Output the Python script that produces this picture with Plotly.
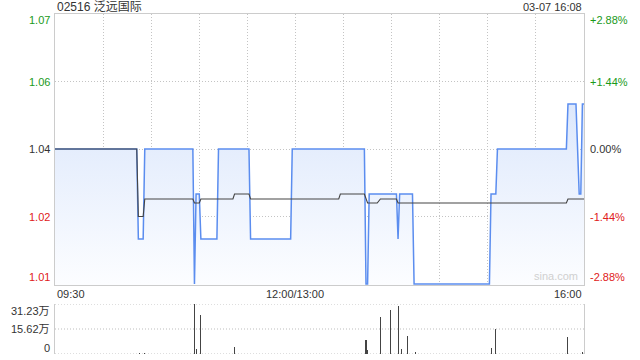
import plotly.graph_objects as go

# ---- data ----
title_text = "02516 泛远国际"
time_text = "03-07 16:08"
prev_close = 1.04

# price line change points: minute since 09:30 (trading minutes, lunch removed), price
price_min = [0, 51, 52, 55, 56, 86, 87, 88, 90, 91, 101, 102, 121, 122, 147, 148,
             193, 194, 195, 196, 213, 214, 215, 223, 224, 271, 272, 275, 276,
             319, 320, 325, 327, 328, 329, 330]
price_val = [1.04, 1.04, 1.02, 1.02, 1.04, 1.04, 1.01, 1.03, 1.03, 1.02, 1.02, 1.04,
             1.04, 1.02, 1.02, 1.04, 1.04, 1.01, 1.01, 1.03, 1.03, 1.02, 1.03, 1.03,
             1.01, 1.01, 1.03, 1.03, 1.04, 1.04, 1.05, 1.05, 1.03, 1.03, 1.05, 1.05]

# average price line change points
avg_min = [0, 51, 52, 55, 56, 86, 87, 90, 91, 111, 112, 121, 122, 177, 178, 193,
           195, 201, 203, 213, 214, 319, 320, 330]
avg_val = [1.04, 1.04, 1.025, 1.025, 1.0289, 1.0289, 1.028, 1.028, 1.0289, 1.0289,
           1.03, 1.03, 1.0289, 1.0289, 1.03, 1.03, 1.028, 1.028, 1.0289, 1.0289,
           1.028, 1.028, 1.0289, 1.0289]

# volume bars
vol_min = [53, 56, 87, 88, 91, 112, 194, 195, 203, 209, 214, 216, 220, 225, 272, 275, 320, 329]
vol_val = [5000, 4000, 312300, 31000, 245000, 44000, 87000, 25000, 233000, 275000,
           302000, 30000, 112000, 14000, 37000, 156000, 106000, 14000]

# axis labels
price_ticks = [1.07, 1.055, 1.04, 1.025, 1.01]
price_tick_text = ["1.07", "1.06", "1.04", "1.02", "1.01"]
pct_tick_text = ["+2.88%", "+1.44%", "0.00%", "-1.44%", "-2.88%"]
tick_colors = ["#1a9a1a", "#1a9a1a", "#333333", "#e02020", "#e02020"]
vol_ticks = [0, 156150, 312300]
vol_tick_text = ["0", "15.62万", "31.23万"]
x_labels = ["09:30", "12:00/13:00", "16:00"]
x_label_pos = [0, 150, 330]

FONT = "Liberation Sans, Arial, Noto Sans CJK SC, sans-serif"

fig = go.Figure()

fig.add_trace(go.Scatter(
    x=price_min, y=price_val, mode="lines",
    line=dict(color="#5b8def", width=1.5),
    fill="tozeroy",
    fillgradient=dict(type="vertical", start=1.01, stop=1.05,
                      colorscale=[[0, "rgba(252,253,255,1)"], [1, "rgba(221,232,252,1)"]]),
    xaxis="x", yaxis="y", hoverinfo="skip"))

fig.add_trace(go.Scatter(
    x=avg_min, y=avg_val, mode="lines",
    line=dict(color="#444444", width=1.1),
    xaxis="x", yaxis="y", hoverinfo="skip"))

fig.add_trace(go.Bar(
    x=vol_min, y=vol_val, width=0.65,
    marker=dict(color="#444444", line=dict(width=0)),
    xaxis="x2", yaxis="y2", hoverinfo="skip"))

grid = "#c4c4c4"
border = "#cccccc"
gdash = "1px,2px"

fig.update_layout(
    width=640, height=360,
    margin=dict(l=55, r=56, t=14, b=6),
    plot_bgcolor="white", paper_bgcolor="white",
    showlegend=False,
    bargap=0,
    hovermode=False,
    font=dict(family=FONT, size=11, color="#333333"),
    xaxis=dict(range=[0, 330], domain=[0, 1], anchor="y",
               tickvals=list(range(30, 330, 30)), showticklabels=False, ticks="",
               showgrid=True, gridcolor=grid, griddash=gdash, gridwidth=1,
               zeroline=False, showline=True, linecolor=border, linewidth=1, mirror=True),
    yaxis=dict(range=[1.00978, 1.07], domain=[(354 - 285) / 340, 1], anchor="x",
               tickvals=[1.055, 1.04, 1.025], showticklabels=False, ticks="",
               showgrid=True, gridcolor=grid, griddash=gdash, gridwidth=1,
               zeroline=False, showline=True, linecolor=border, linewidth=1, mirror=True),
    xaxis2=dict(range=[0, 330], domain=[0, 1], anchor="y2",
                showticklabels=False, ticks="", showgrid=False, zeroline=False,
                showline=False),
    yaxis2=dict(range=[0, 312300], domain=[0, 50 / 340], anchor="x2",
                tickvals=vol_ticks, showticklabels=False, ticks="",
                showgrid=False, zeroline=False,
                showline=True, linecolor=border, linewidth=1, mirror=True),
)

# dotted volume grid lines (top, middle, bottom)
for v in vol_ticks:
    fig.add_shape(type="line", xref="x2 domain", yref="y2", x0=0, x1=1, y0=v, y1=v,
                  line=dict(color="#bdbdbd", width=1, dash=gdash), layer="below")

ann = []
ann.append(dict(text=title_text, xref="paper", yref="paper", x=0, y=1, yshift=7,
                xanchor="left", yanchor="middle", showarrow=False,
                font=dict(size=12, color="#333333",
                          family="Liberation Sans, Noto Sans CJK SC, sans-serif")))
ann.append(dict(text=time_text, xref="paper", yref="paper", x=1, y=1, yshift=7,
                xanchor="right", yanchor="middle", showarrow=False,
                font=dict(size=11, color="#333333")))

shifts = [-6, 0, 0, 0, 7]
for v, t, p, c, s in zip(price_ticks, price_tick_text, pct_tick_text, tick_colors, shifts):
    ann.append(dict(text=t, xref="paper", yref="y", x=0, y=v, xshift=-3, yshift=s,
                    xanchor="right", yanchor="middle", showarrow=False,
                    font=dict(size=11, color=c)))
    ann.append(dict(text=p, xref="paper", yref="y", x=1, y=v, xshift=4, yshift=s,
                    xanchor="left", yanchor="middle", showarrow=False,
                    font=dict(size=11, color=c)))

vshifts = [6, 0, -7]
for v, t, s in zip(vol_ticks, vol_tick_text, vshifts):
    ann.append(dict(text=t, xref="paper", yref="y2", x=0, y=v, xshift=-3, yshift=s,
                    xanchor="right", yanchor="middle", showarrow=False,
                    font=dict(size=11, color="#333333",
                              family="Liberation Sans, Noto Sans CJK SC, sans-serif")))

anchors = ["left", "center", "right"]
for t, m, a in zip(x_labels, x_label_pos, anchors):
    ann.append(dict(text=t, xref="x", yref="paper", x=m, y=(354 - 294) / 340,
                    xanchor=a, yanchor="middle", showarrow=False,
                    font=dict(size=11, color="#333333")))

ann.append(dict(text="sina.com", xref="paper", yref="y", x=1, y=1.01, xshift=-4, yshift=8,
                xanchor="right", yanchor="middle", showarrow=False,
                font=dict(size=11, color="#d0d0d0")))

fig.update_layout(annotations=ann)

# remove the browser's default 8px body margin so the 640x360 figure fills the window
fig.write_html("out.html",
               config={"displayModeBar": False, "staticPlot": True},
               post_script="document.body.style.margin='0';document.body.style.overflow='hidden';")
